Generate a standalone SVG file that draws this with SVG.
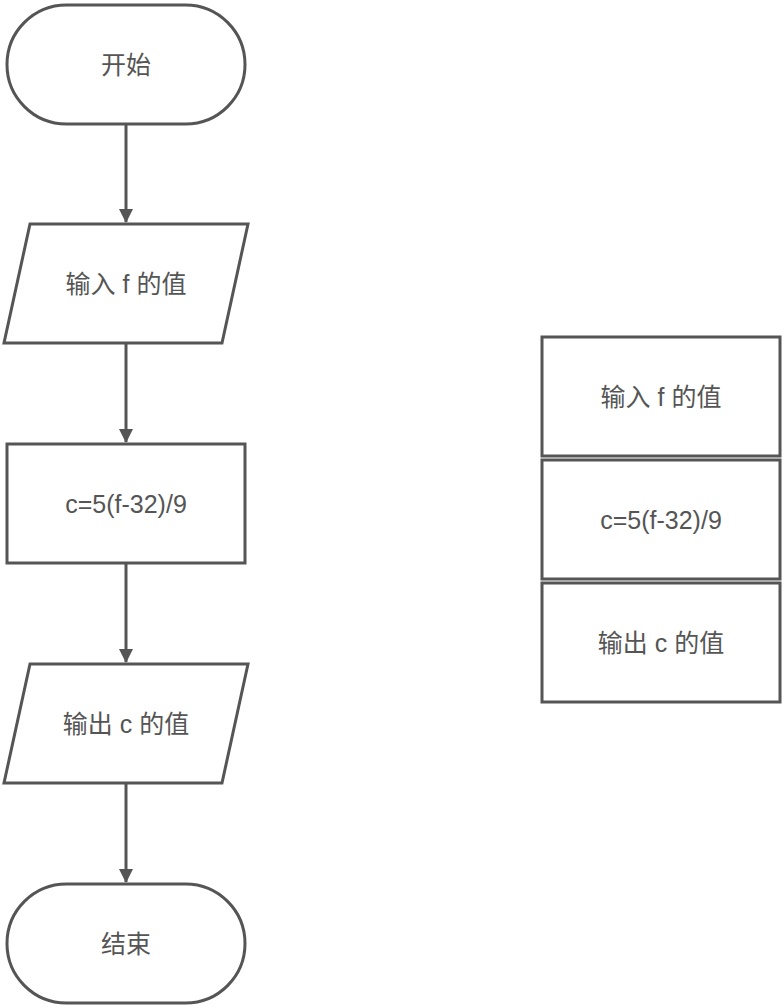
<svg xmlns="http://www.w3.org/2000/svg" width="784" height="1008" viewBox="0 0 784 1008">
<style>
.s{fill:#fff;stroke:#555;stroke-width:3}
.t{font-family:"Liberation Sans","Noto Sans CJK SC",sans-serif;font-size:25px;fill:#555;text-anchor:middle;dominant-baseline:central}
.c{stroke:#555;stroke-width:3;fill:none;marker-end:url(#a)}
</style>
<defs><marker id="a" markerWidth="14" markerHeight="14" refX="13" refY="7" orient="auto" markerUnits="userSpaceOnUse"><path d="M0,0 L14,7 L0,14 Z" fill="#555"/></marker></defs>
<rect width="784" height="1008" fill="#fff"/>
<g id="connectors">
<line class="c" x1="126" y1="124" x2="126" y2="222"/>
<line class="c" x1="126" y1="343" x2="126" y2="442"/>
<line class="c" x1="126" y1="563" x2="126" y2="662"/>
<line class="c" x1="126" y1="783" x2="126" y2="882"/>
</g>
<g id="start"><rect class="s" x="7" y="5" width="238" height="119" rx="59.5"/><text class="t" x="126" y="65">开始</text></g>
<g id="input"><polygon class="s" points="30,224 248,224 222,343 4,343"/><text class="t" x="126" y="284">输入 f 的值</text></g>
<g id="calc"><rect class="s" x="7" y="444" width="238" height="119"/><text class="t" x="126" y="504">c=5(f-32)/9</text></g>
<g id="output"><polygon class="s" points="30,664 248,664 222,783 4,783"/><text class="t" x="126" y="724">输出 c 的值</text></g>
<g id="end"><rect class="s" x="7" y="884" width="238" height="119" rx="59.5"/><text class="t" x="126" y="944">结束</text></g>
<g id="r1"><rect class="s" x="542" y="337" width="238" height="119"/><text class="t" x="661" y="397">输入 f 的值</text></g>
<g id="r2"><rect class="s" x="542" y="460" width="238" height="119"/><text class="t" x="661" y="520">c=5(f-32)/9</text></g>
<g id="r3"><rect class="s" x="542" y="583" width="238" height="119"/><text class="t" x="661" y="643">输出 c 的值</text></g>
</svg>
